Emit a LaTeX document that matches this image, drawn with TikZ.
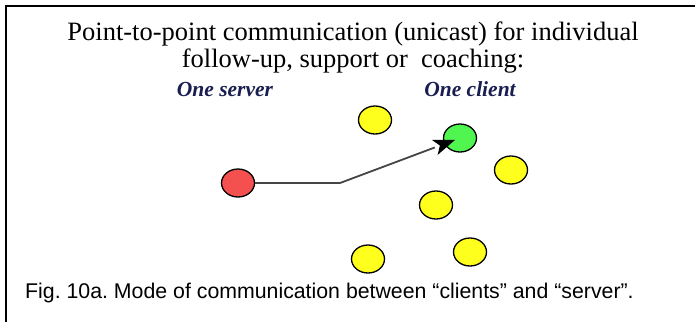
\documentclass[tikz,border=0pt]{standalone}
\usepackage{fontspec}
\setmainfont{Liberation Serif}
\newfontfamily\capfont{Liberation Sans}
\usetikzlibrary{shapes.geometric,calc}
\frenchspacing
\definecolor{nodered}{RGB}{245,80,80}
\definecolor{nodeyellow}{RGB}{255,255,30}
\definecolor{nodegreen}{RGB}{80,245,80}
\definecolor{labelnavy}{RGB}{25,30,80}
\definecolor{wire}{RGB}{70,70,70}
\tikzset{
  host/.style={ellipse, draw=black, line width=1.3pt, minimum width=33pt, minimum height=28pt, inner sep=0pt},
  title/.style={anchor=base, font=\fontsize{26.5}{30}\selectfont, inner sep=0pt},
  role/.style={anchor=base, text=labelnavy, font=\fontsize{21.5}{24}\selectfont\bfseries\itshape, inner sep=0pt},
  caption/.style={anchor=base west, font=\capfont\fontsize{21.3}{25}\selectfont, inner sep=0pt},
  frame/.style={line width=2pt, black},
  link/.style={draw=wire, line width=1.8pt},
}
\begin{document}
\begin{tikzpicture}[x=1pt,y=-1pt]
\useasboundingbox (0,0) rectangle (695,322);
% open frame: top and left edges
\draw[frame] (695,6) -- (6,6) -- (6,322);
% heading
\node[title] (t1) at (353,40) {Point-to-point communication (unicast) for individual};
\node[title] (t2) at (353,67) {follow-up, support or\ \ coaching:};
\node[role] (lserver) at (225,96) {One server};
\node[role] (lclient) at (470,96) {One client};
% hosts
\node[host, fill=nodered] (server) at (238,183) {};
\node[host, fill=nodegreen] (client) at (460,138) {};
\node[host, fill=nodeyellow] (y1) at (375,120) {};
\node[host, fill=nodeyellow] (y2) at (511,170) {};
\node[host, fill=nodeyellow] (y3) at (436,205) {};
\node[host, fill=nodeyellow] (y4) at (470,252) {};
\node[host, fill=nodeyellow] (y5) at (368,259) {};
% unicast link
\coordinate (bend) at (340,183);
\draw[link] (server.east) -- (bend);
\path (bend) -- (client.center) coordinate[pos=0.96] (tip) coordinate[pos=0.79] (back);
\draw[link] (bend) -- (back);
% arrowhead, a filled dart reaching into the client
\fill[black] (tip) -- ($(back)!8pt!90:(tip)$) -- ($(back)!0.25!(tip)$) -- ($(back)!8pt!-90:(tip)$) -- cycle;
% caption
\node[caption] (cap) at (25,298) {Fig. 10a. Mode of communication between “clients” and “server”.};
\end{tikzpicture}
\end{document}
